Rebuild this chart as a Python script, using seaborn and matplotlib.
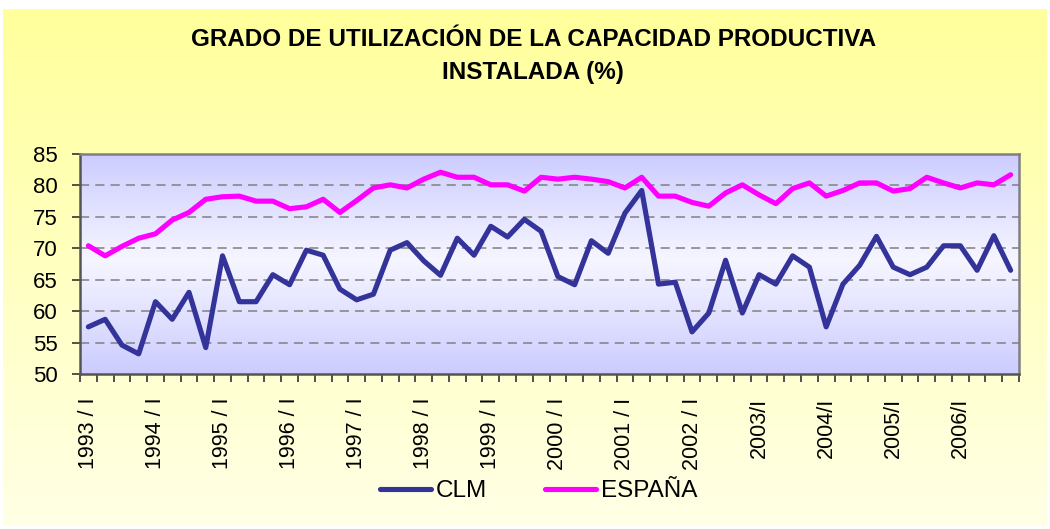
import numpy as np
import pandas as pd
import seaborn as sns
import matplotlib.pyplot as plt
from matplotlib.colors import LinearSegmentedColormap

# quarterly series 1993/I - 2006/IV
years = list(range(1993, 2007))
year_labels = ["1993 / I", "1994 / I", "1995 / I", "1996 / I", "1997 / I",
               "1998 / I", "1999 / I", "2000 / I", "2001 / I", "2002 / I",
               "2003/I", "2004/I", "2005/I", "2006/I"]

clm = [57.5, 58.7, 54.6, 53.2, 61.5, 58.7, 63.0, 54.2,
       68.8, 61.5, 61.5, 65.8, 64.2, 69.7, 68.9, 63.5,
       61.8, 62.7, 69.7, 70.9, 68.0, 65.7, 71.6, 68.9,
       73.5, 71.8, 74.6, 72.7, 65.5, 64.2, 71.2, 69.2,
       75.6, 79.2, 64.3, 64.6, 56.7, 59.7, 68.1, 59.7,
       65.8, 64.3, 68.8, 67.0, 57.5, 64.3, 67.3, 71.9,
       67.0, 65.8, 67.0, 70.4, 70.4, 66.5, 72.0, 66.5]

espana = [70.4, 68.8, 70.3, 71.6, 72.3, 74.5, 75.7, 77.8,
          78.2, 78.3, 77.5, 77.5, 76.3, 76.6, 77.8, 75.7,
          77.6, 79.6, 80.1, 79.6, 81.0, 82.1, 81.3, 81.3,
          80.1, 80.1, 79.1, 81.3, 81.0, 81.3, 81.0, 80.6,
          79.6, 81.3, 78.3, 78.3, 77.3, 76.7, 78.8, 80.1,
          78.5, 77.1, 79.5, 80.4, 78.3, 79.2, 80.4, 80.4,
          79.1, 79.5, 81.3, 80.4, 79.6, 80.4, 80.1, 81.7]

n = len(clm)
df = pd.DataFrame({
    "pos": list(range(n)) * 2,
    "valor": clm + espana,
    "serie": ["CLM"] * n + ["ESPAÑA"] * n,
})

sns.set_style("white")
plt.rcParams['font.family'] = ['Liberation Sans', 'DejaVu Sans']
plt.rcParams['text.color'] = 'black'
plt.rcParams['xtick.color'] = 'black'
plt.rcParams['ytick.color'] = 'black'

fig = plt.figure(figsize=(10.5, 5.29), dpi=100, facecolor="white")

# yellow gradient background of the chart area
bg = fig.add_axes([3 / 1050, 3 / 529, 1044 / 1050, 517 / 529], zorder=-10)
ycmap = LinearSegmentedColormap.from_list("y", ["#FFFF9C", "#FFFFE6"])
bg.imshow(np.linspace(0, 1, 256).reshape(-1, 1), cmap=ycmap, aspect="auto",
          extent=[0, 1, 0, 1])
bg.set_axis_off()

pos = [80 / 1050, 1 - 374 / 529, 939 / 1050, 220 / 529]

# plot area gradient (lavender - white - lavender)
pbg = fig.add_axes(pos, zorder=-5)
pcmap = LinearSegmentedColormap.from_list(
    "p", [(0, "#CCCCFF"), (0.48, "#F6F6FF"), (1, "#CCCCFF")])
pbg.imshow(np.linspace(0, 1, 256).reshape(-1, 1), cmap=pcmap, aspect="auto",
           extent=[0, 1, 0, 1])
pbg.set_axis_off()

ax = fig.add_axes(pos)
ax.patch.set_visible(False)

sns.lineplot(data=df, x="pos", y="valor", hue="serie",
             palette={"CLM": "#333399", "ESPAÑA": "#FF00FF"},
             linewidth=3.7, ax=ax, legend=False)

ax.set_xlim(-0.5, n - 0.5)
ax.set_ylim(50, 85)
ax.set_xlabel("")
ax.set_ylabel("")

for v in range(55, 85, 5):
    ax.axhline(v, color="#808080", linewidth=1.1, linestyle=(0, (6, 4)),
               zorder=0.5)

ax.set_yticks(range(50, 90, 5))
ax.tick_params(axis="y", labelsize=16, length=6, width=1.2, color="#333333",
               pad=10, left=True)

ax.set_xticks([i * 4 for i in range(len(years))])
ax.set_xticklabels(year_labels, rotation=90, fontsize=15.5)
ax.set_xticks(np.arange(-0.5, n, 1), minor=True)
ax.tick_params(axis="x", which="major", length=0, pad=17)
ax.tick_params(axis="x", which="minor", length=5.5, width=1.2,
               color="#333333", bottom=True)

for s in ["top", "right"]:
    ax.spines[s].set_color("#808080")
    ax.spines[s].set_linewidth(1.8)
for s in ["left", "bottom"]:
    ax.spines[s].set_color("#555555")
    ax.spines[s].set_linewidth(1.8)

fig.text(0.508, 1 - 39 / 529, "GRADO DE UTILIZACIÓN DE LA CAPACIDAD PRODUCTIVA",
         ha="center", va="center", fontsize=17.5, fontweight="bold")
fig.text(0.508, 1 - 73 / 529, "INSTALADA (%)",
         ha="center", va="center", fontsize=17.5, fontweight="bold")

h1, = ax.plot([], [], color="#333399", linewidth=3.7)
h2, = ax.plot([], [], color="#FF00FF", linewidth=3.7)
fig.legend([h1, h2], ["CLM", "ESPAÑA"], loc="center",
           bbox_to_anchor=(0.513, 1 - 491 / 529), ncol=2, frameon=False,
           fontsize=17.5, handlelength=2.1, handletextpad=0.2,
           columnspacing=2.4)

fig.savefig("out.png", dpi=100, facecolor="white")
